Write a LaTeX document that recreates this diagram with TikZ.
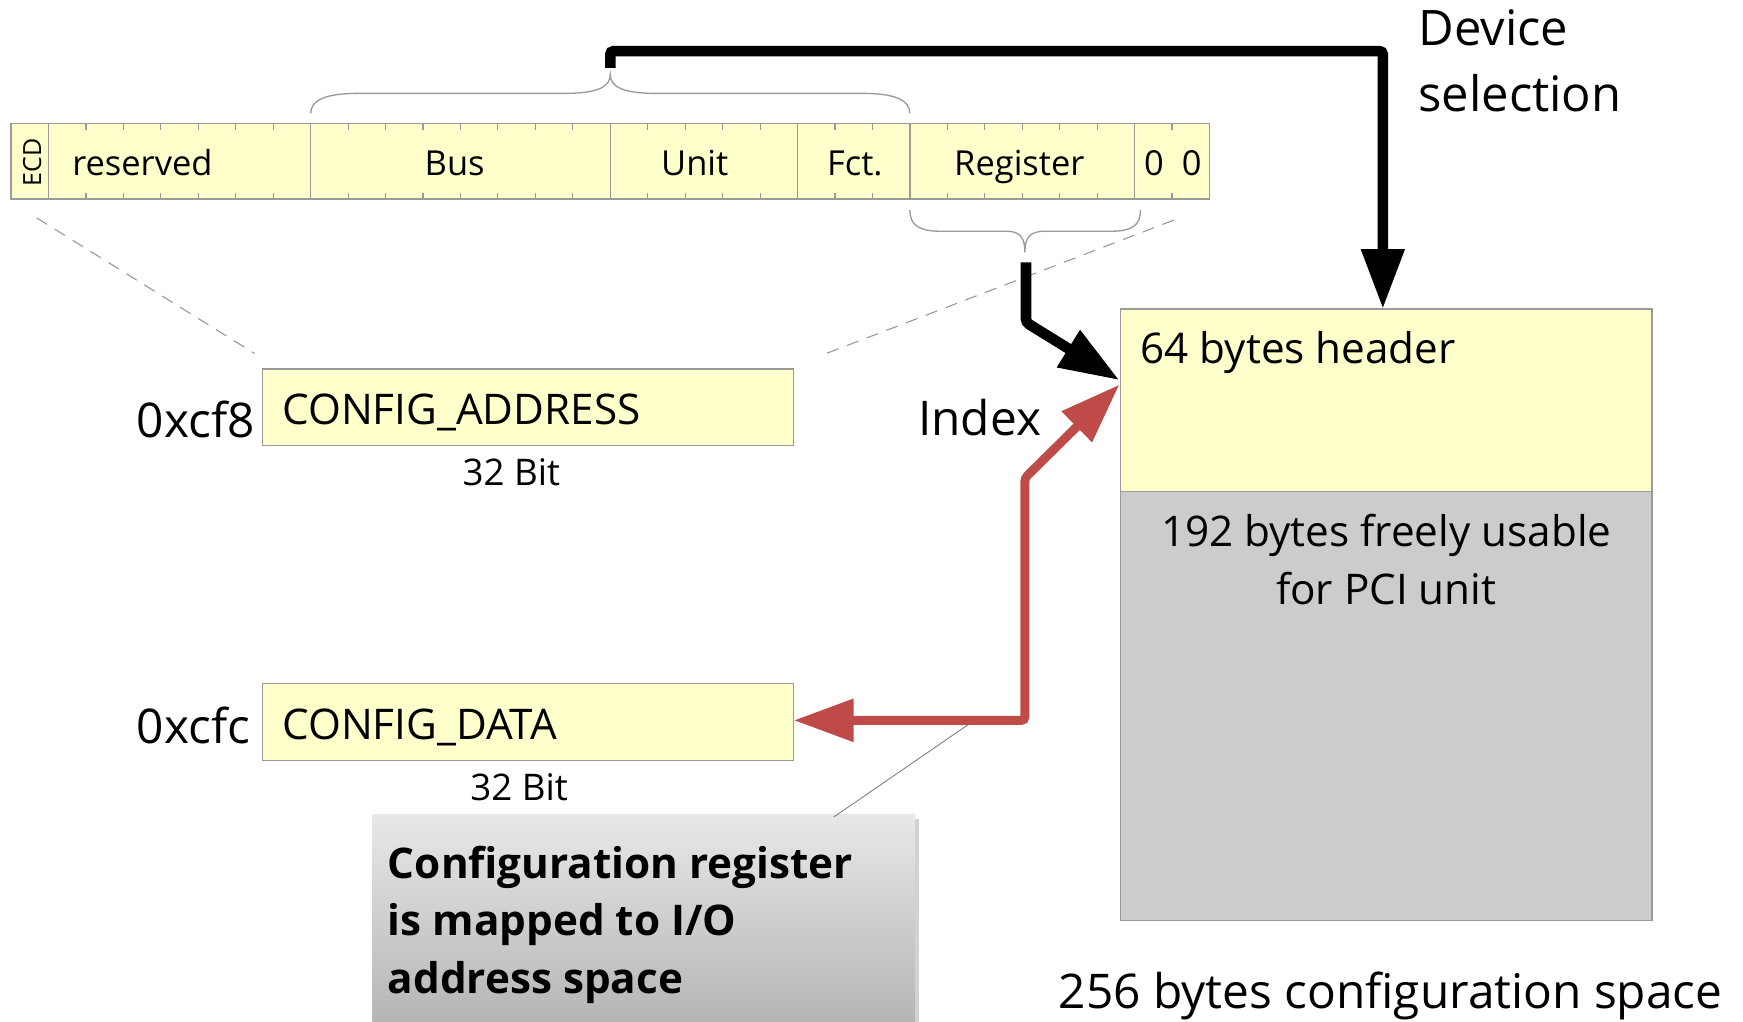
\documentclass[tikz,border=0pt]{standalone}
\usepackage{fontspec}
\setmainfont{Open Sans}
\usetikzlibrary{arrows.meta,calc}
\definecolor{boxyellow}{HTML}{FFFFCC}
\definecolor{boxgray}{HTML}{CCCCCC}
\definecolor{edgegray}{HTML}{9A9A9A}
\definecolor{arrowred}{RGB}{190,75,72}
\definecolor{notetop}{HTML}{E8E8E8}
\definecolor{notebottom}{HTML}{B4B4B4}
\definecolor{noteshadow}{HTML}{D2D2D2}
\tikzset{
  every node/.style={inner sep=0pt, outer sep=0pt},
  field/.style={draw=edgegray, fill=boxyellow, line width=1.2pt, minimum height=68pt, anchor=west},
  regbox/.style={draw=edgegray, fill=boxyellow, line width=1.2pt, minimum width=478pt, minimum height=69pt, anchor=north west},
  fieldtxt/.style={font=\fontsize{31}{31}\selectfont},
  bigtxt/.style={font=\fontsize{43}{43}\selectfont},
  boxtxt/.style={font=\fontsize{38}{38}\selectfont},
  bittxt/.style={font=\fontsize{33}{33}\selectfont},
  tick/.style={draw=edgegray, line width=1pt},
  bracestyle/.style={draw=edgegray, line width=1.2pt},
  dashline/.style={draw=edgegray, line width=1pt, dash pattern=on 11pt off 8pt},
  blackarrow/.style={draw=black, line width=9.5pt, rounded corners=3pt, -{Triangle[length=54pt,width=37pt]}},
  redarrow/.style={draw=arrowred, line width=8pt, rounded corners=3pt, {Triangle[length=54pt,width=37pt]}-{Triangle[length=54pt,width=37pt]}},
  leader/.style={draw=gray, line width=0.8pt},
}
\begin{document}
\begin{tikzpicture}[x=1pt,y=-1pt]
\useasboundingbox (0,0) rectangle (1568,919);
\def\bw{33.6875}
% register row fields
\node[field, minimum width=33.6875pt] (ecd) at (10,145) {};
\node[field, minimum width=235.8125pt] (res) at (43.6875,145) {};
\node[field, minimum width=269.5pt] (bus) at (279.5,145) {};
\node[field, minimum width=168.4375pt] (unit) at (549,145) {};
\node[field, minimum width=101.0625pt] (fct) at (717.4375,145) {};
\node[field, minimum width=202.125pt] (reg) at (818.5,145) {};
\node[field, minimum width=67.375pt] (zero) at (1020.625,145) {};
% ticks
\foreach \i in {1,...,31}{
  \draw[tick] ({10+\i*\bw},111) -- ++(0,5.5);
  \draw[tick] ({10+\i*\bw},179) -- ++(0,-5.5);
}
% field labels
\node[rotate=90, font=\fontsize{22.5}{22.5}\selectfont] (ecdtxt) at (29,146) {ECD};
\node[fieldtxt, anchor=base west] (restxt) at (65,158) {reserved};
\node[fieldtxt, anchor=base] (bustxt) at (409,158) {Bus};
\node[fieldtxt, anchor=base] (unittxt) at (625,158) {Unit};
\node[fieldtxt, anchor=base] (fcttxt) at (769,158) {Fct.};
\node[fieldtxt, anchor=base] (regtxt) at (917,158) {Register};
\node[fieldtxt, anchor=base] (z1) at (1038,158) {0};
\node[fieldtxt, anchor=base] (z2) at (1072,158) {0};
% braces
\draw[bracestyle] (279.5,102) .. controls (279.5,90) and (293,84) .. (322,84) -- (508,84)
  .. controls (538,84) and (549,78) .. (549,67)
  .. controls (549,78) and (560,84) .. (590,84) -- (776,84)
  .. controls (805,84) and (818.5,90) .. (818.5,102);
\draw[bracestyle] (818.5,189) .. controls (818.5,202) and (826,208) .. (846,208) -- (905,208)
  .. controls (918,208) and (922,214) .. (922,227)
  .. controls (922,214) and (926,208) .. (940,208) -- (1000,208)
  .. controls (1019,208) and (1026,202) .. (1026,189);
% config registers
\node[regbox] (caddr) at (236,332) {};
\node[regbox] (cdata) at (236,615) {};
\node[boxtxt, anchor=base west] (caddrtxt) at (254,382) {CONFIG\_ADDRESS};
\node[boxtxt, anchor=base west] (cdatatxt) at (254,665) {CONFIG\_DATA};
\node[bigtxt, anchor=base east] (port1) at (229,394) {0xcf8};
\node[bigtxt, anchor=base east] (port2) at (225,669) {0xcfc};
\node[bittxt, anchor=base] (bits1) at (460,437) {32 Bit};
\node[bittxt, anchor=base] (bits2) at (467,720) {32 Bit};
% dashed zoom lines
\coordinate (dl1) at (33,196);
\coordinate (dl2) at (229,318);
\coordinate (dr1) at (1056,198);
\coordinate (dr2) at (738,320);
\draw[dashline] (dl1) -- (dl2);
\draw[dashline] (dr1) -- (dr2);
% configuration space
\node[draw=edgegray, fill=boxgray, line width=1.2pt, minimum width=478pt, minimum height=550pt, anchor=north west] (cfg) at (1008,278) {};
\node[draw=edgegray, fill=boxyellow, line width=1.2pt, minimum width=478pt, minimum height=164pt, anchor=north west] (hdr) at (1008,278) {};
\node[boxtxt, anchor=base west] (hdrtxt) at (1026,327) {64 bytes header};
\node[font=\fontsize{38}{52}\selectfont, align=center, anchor=base] (freetxt) at (1247,544) {192 bytes freely usable\\for PCI unit};
\node[bigtxt, anchor=base] (cfgtxt) at (1251,907) {256 bytes configuration space};
\node[font=\fontsize{44}{59}\selectfont, align=left, anchor=base west] (devtxt) at (1276,100) {Device\\selection};
\node[bigtxt, anchor=base west] (idxtxt) at (826,392) {Index};
% callout
\fill[noteshadow] (339,737) rectangle (827,919);
\node[top color=notetop, bottom color=notebottom, minimum width=488pt, minimum height=190pt, anchor=north west] (note) at (335,733) {};
\node[font=\bfseries\fontsize{38}{52}\selectfont, align=left, anchor=base west] (notetxt) at (349,894) {Configuration register\\is mapped to I/O\\address space};
\coordinate (ld1) at (750,735);
\coordinate (ld2) at (878,647);
\draw[leader] (ld1) -- (ld2);
% arrows
\coordinate (devstart) at (549,61);
\coordinate (devtip) at (1244,278);
\draw[blackarrow] (devstart) -- (549,46) -- (1244,46) -- (devtip);
\coordinate (idxstart) at (923,236);
\coordinate (idxbend) at (923,290);
\coordinate (idxtip) at (1007,342);
\draw[blackarrow] (idxstart) -- (idxbend) -- (idxtip);
\coordinate (redbend1) at (922,648);
\coordinate (redbend2) at (922,430);
\coordinate (redtip) at (1007,346);
\draw[redarrow] (cdata.east |- redbend1) -- (redbend1) -- (redbend2) -- (redtip);
\end{tikzpicture}
\end{document}
